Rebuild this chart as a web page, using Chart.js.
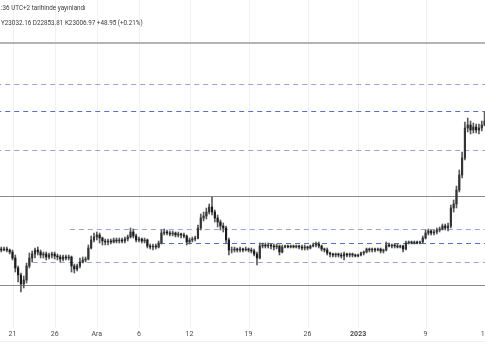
<!DOCTYPE html>
<html><head><meta charset="utf-8">
<script src="https://cdn.jsdelivr.net/npm/chart.js@4.4.0/dist/chart.umd.min.js"></script>
<style>
html,body{margin:0;padding:0;background:#fff;overflow:hidden}
#wrap{position:relative;width:485px;height:360px}
canvas{position:absolute;left:0;top:0}
.hdr{position:absolute;left:1px;font-family:Roboto,"Liberation Sans",sans-serif;font-size:6.3px;color:#3a3a3a;white-space:nowrap}
</style></head><body>
<div id="wrap"><canvas id="c" width="485" height="360"></canvas>
<div class="hdr" style="top:4px">:36 UTC+2 tarihinde yayınlandı</div>
<div class="hdr" style="top:19px">Y23032.16 D22853.81 K23006.97 +48.95 (+0.21%)</div>
</div>
<script>
// 8-hour candles, time in days from 21 Nov 2022
const startDay = -4/3;
const stepDay = 1/3;
const opens = [
16830,16800,16830,16800,16740,16560,16260,16050,15780,15900,
16320,16560,16680,16800,16740,16650,16680,16590,16650,16680,
16620,16590,16530,16590,16560,16590,16320,16230,16320,16440,
16500,16530,16860,17100,17190,17250,17160,17070,17040,17070,
17040,17100,17070,17100,17070,17130,17190,17340,17220,17100,
17130,17070,17100,16920,16890,16920,16890,17010,17310,17340,
17310,17280,17310,17250,17280,17250,17220,17040,17100,17130,
17160,17460,17760,17820,17940,18090,17940,17760,17640,17520,
17460,17100,16800,16800,16830,16800,16830,16800,16830,16800,
16770,16680,16560,16920,16950,16920,16950,16920,16890,16920,
16740,16890,16920,16890,16920,16890,16920,16890,16860,16890,
16860,16920,16950,16980,16920,16830,16800,16710,16680,16650,
16680,16650,16620,16680,16650,16680,16650,16620,16650,16710,
16740,16830,16800,16830,16800,16830,16770,16800,16950,16920,
16950,16920,16890,16920,16830,17010,17040,17010,17040,17010,
17040,17160,17310,17370,17310,17340,17400,17430,17520,17460,
17520,18060,18180,18600,19050,19560,20460,20550,20400,20490,
20400,20460,20550];
const highs = [
16890,16890,16890,16830,16800,16650,16320,16110,16020,16410,
16710,16770,16860,16890,16800,16740,16740,16710,16740,16740,
16680,16650,16650,16650,16650,16620,16380,16380,16560,16590,
16590,16950,17220,17310,17340,17310,17190,17130,17130,17130,
17160,17160,17160,17160,17190,17250,17460,17430,17280,17190,
17160,17160,17130,16980,16980,16980,17070,17400,17430,17400,
17370,17370,17340,17340,17310,17310,17250,17160,17190,17220,
17550,17880,17940,18060,18180,18390,18000,17850,17700,17610,
17520,17160,16890,16890,16860,16890,16860,16890,16860,16860,
16830,16740,17010,17010,17010,17010,16980,16980,16980,16950,
16950,16950,16950,16950,16950,16950,16950,16950,16950,16920,
16950,17010,17040,17040,16950,16860,16860,16740,16710,16710,
16710,16710,16740,16710,16710,16710,16680,16680,16740,16770,
16860,16860,16860,16860,16860,16860,16830,17040,17010,16980,
16980,16980,16950,16950,17070,17070,17070,17070,17070,17070,
17220,17400,17430,17400,17400,17460,17490,17580,17580,17610,
18150,18300,18720,19200,19740,20640,20760,20670,20610,20580,
20580,20670,20940];
const lows = [
16740,16770,16740,16680,16500,16140,15840,15540,15660,15810,
16260,16440,16560,16650,16560,16560,16500,16530,16560,16530,
16500,16440,16470,16500,16500,16140,16110,16170,16260,16410,
16440,16500,16830,17040,17100,17010,16950,16950,16950,16980,
17010,17010,17010,17010,17010,17070,17160,17160,17040,17040,
17010,17010,16860,16830,16800,16830,16860,16980,17250,17250,
17220,17220,17190,17190,17160,17160,16950,16980,17040,17070,
17130,17400,17670,17730,17880,17850,17640,17490,17400,17340,
17010,16650,16710,16740,16740,16740,16740,16770,16740,16710,
16620,16350,16530,16860,16860,16860,16830,16800,16830,16650,
16710,16860,16860,16860,16860,16860,16830,16800,16800,16800,
16830,16890,16890,16860,16770,16740,16650,16590,16590,16590,
16590,16560,16500,16590,16590,16590,16590,16590,16620,16650,
16710,16740,16740,16740,16770,16710,16710,16770,16890,16860,
16860,16860,16860,16740,16800,16980,16980,16980,16980,16980,
17010,17130,17250,17250,17250,17280,17340,17400,17400,17370,
17460,17940,18060,18540,18960,19500,20340,20280,20310,20310,
20280,20370,20520];
const closes = [
16800,16830,16800,16740,16560,16260,16050,15780,15900,16320,
16560,16680,16800,16740,16650,16680,16590,16650,16680,16620,
16590,16530,16590,16560,16590,16320,16230,16320,16440,16500,
16530,16860,17100,17190,17250,17160,17070,17040,17070,17040,
17100,17070,17100,17070,17130,17190,17340,17220,17100,17130,
17070,17100,16920,16890,16920,16890,17010,17310,17340,17310,
17280,17310,17250,17280,17250,17220,17040,17100,17130,17160,
17460,17760,17820,17940,18090,17940,17760,17640,17520,17460,
17100,16800,16800,16830,16800,16830,16800,16830,16800,16770,
16680,16560,16920,16950,16920,16950,16920,16890,16920,16740,
16890,16920,16890,16920,16890,16920,16890,16860,16890,16860,
16920,16950,16980,16920,16830,16800,16710,16680,16650,16680,
16650,16620,16680,16650,16680,16650,16620,16650,16710,16740,
16830,16800,16830,16800,16830,16770,16800,16950,16920,16950,
16920,16890,16920,16830,17010,17040,17010,17040,17010,17040,
17160,17310,17370,17310,17340,17400,17430,17520,17460,17520,
18060,18180,18600,19050,19560,20460,20550,20400,20490,20400,
20460,20550,20670];

const tickDays = [0,5,10,15,21,28,35,41,49,56];
const tickLabels = ["21","26","Ara","6","12","19","26","2023","9","16"];

// horizontal drawings (price, start day)
const levelPrices = [23010,21765,20955,19785,18405,17415,16995,16425,15735];
const levelStartDays = [-3,-3,-3,-3,-3,6.8,17.5,2.4,-3];

const levelStyles = [
  {c:'#b4b4b4', w:2, d:[]},
  {c:'#93a6e0', w:1, d:[5,4]},
  {c:'#5571c4', w:1, d:[5,4]},
  {c:'#93a6e0', w:1, d:[5,4]},
  {c:'#8a8a8a', w:1.2, d:[]},
  {c:'#93a6e0', w:1, d:[5,4]},
  {c:'#5571c4', w:1, d:[5,4]},
  {c:'#93a6e0', w:1, d:[5,4]},
  {c:'#8a8a8a', w:1.2, d:[]}
];

const times = opens.map((_, i) => startDay + i * stepDay);

const datasets = [];
datasets.push({
  type:'bar', label:'bodies', order:0, grouped:false, barThickness:1.5,
  data: times.map((t,i)=>({x:t, y:[opens[i], closes[i]]})),
  backgroundColor: times.map((t,i)=> closes[i] >= opens[i] ? '#333333' : '#1a1a1a'),
  borderWidth:0
});
datasets.push({
  type:'bar', label:'wicks', order:1, grouped:false, barThickness:1,
  data: times.map((t,i)=>({x:t, y:[lows[i], highs[i]]})),
  backgroundColor:'#5a5a5a', borderWidth:0
});
levelPrices.forEach((p,i)=>{
  const s = levelStyles[i];
  datasets.push({
    type:'line', label:'lvl'+i, order:2,
    data:[{x:levelStartDays[i], y:p},{x:60, y:p}],
    borderColor:s.c, borderWidth:s.w, borderDash:s.d,
    pointRadius:0, fill:false, tension:0
  });
});

const decor = {
  id:'decor',
  beforeDatasetsDraw(chart){
    const {ctx, scales:{x}} = chart;
    ctx.save();
    ctx.strokeStyle='rgba(0,0,0,0.055)';
    ctx.lineWidth=1;
    tickDays.forEach(d=>{
      const px = Math.round(x.getPixelForValue(d)) + 0.5;
      ctx.beginPath(); ctx.moveTo(px,0); ctx.lineTo(px,328); ctx.stroke();
    });
    ctx.restore();
  },
  afterDraw(chart){
    const {ctx, scales:{x}} = chart;
    ctx.save();
    ctx.strokeStyle='rgba(0,0,0,0.06)';
    ctx.beginPath(); ctx.moveTo(0,341.5); ctx.lineTo(485,341.5); ctx.stroke();
    ctx.fillStyle='#4a4a4a';
    ctx.textAlign='center';
    ctx.textBaseline='middle';
    tickLabels.forEach((l,i)=>{
      ctx.font = (l==='2023' ? 'bold ' : '') + '7px Roboto, "Liberation Sans", sans-serif';
      ctx.fillText(l, x.getPixelForValue(tickDays[i]), 334.5);
    });
    ctx.restore();
  }
};

new Chart(document.getElementById('c'), {
  type:'bar',
  data:{datasets},
  plugins:[decor],
  options:{
    responsive:false, animation:false,
    layout:{padding:{left:0,right:0,top:0,bottom:40}},
    plugins:{legend:{display:false}, tooltip:{enabled:false}},
    scales:{
      x:{type:'linear', display:false, offset:false, min:-1.483, max:56.05},
      y:{type:'linear', display:false, min:14700, max:24300}
    }
  }
});
</script>
</body></html>
